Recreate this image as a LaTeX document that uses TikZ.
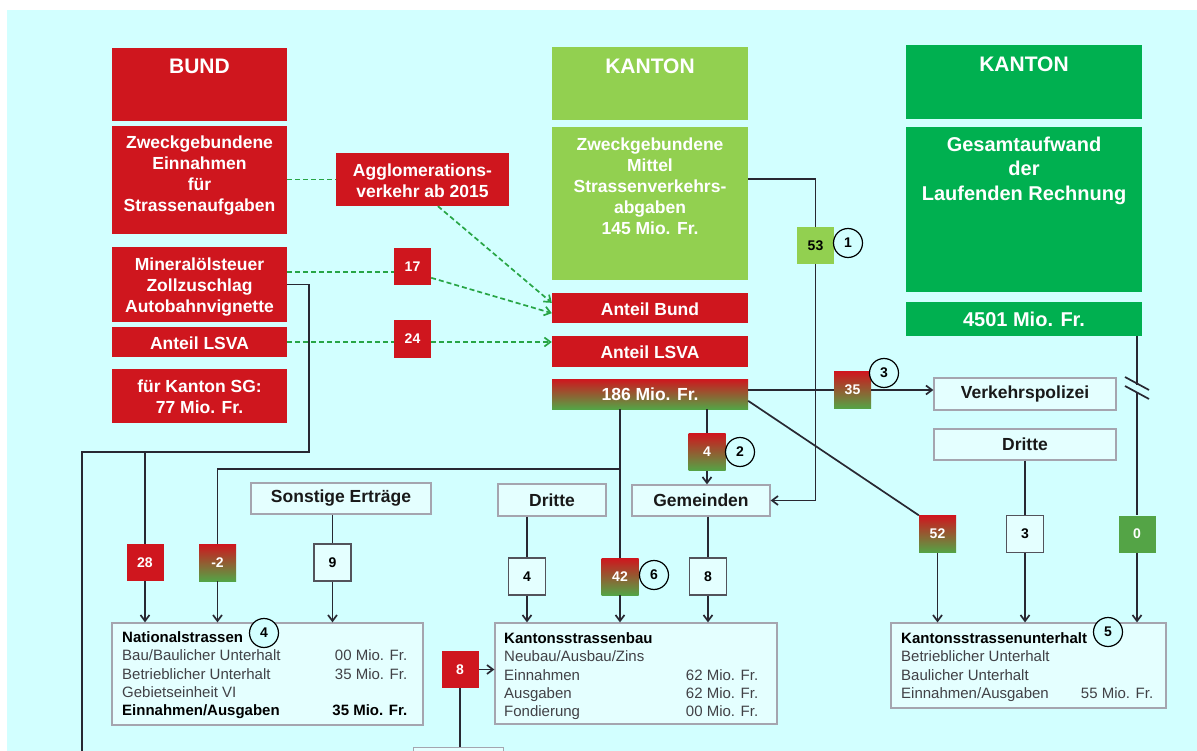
\documentclass[tikz,border=0pt]{standalone}
\usepackage{fontspec}
\setmainfont{Liberation Sans}
\usetikzlibrary{arrows.meta,positioning}

\definecolor{bgcyan}{RGB}{210,255,255}
\definecolor{bundred}{RGB}{207,22,30}
\definecolor{kantlight}{RGB}{146,208,80}
\definecolor{kantdark}{RGB}{0,176,80}
\definecolor{flowgreen}{RGB}{84,164,70}
\definecolor{dashgreen}{RGB}{40,165,70}
\definecolor{wirec}{RGB}{40,40,50}
\definecolor{boxgray}{RGB}{165,165,175}
\definecolor{boxfill}{RGB}{228,255,255}
\definecolor{txtgray}{RGB}{65,65,70}

\newcommand{\bfBox}{\fontsize{17.5}{21}\selectfont\bfseries}
\newcommand{\bfBig}{\fontsize{20}{24.5}\selectfont\bfseries}
\newcommand{\bfHead}{\fontsize{21}{25}\selectfont\bfseries}
\newcommand{\bfNum}{\fontsize{14}{16}\selectfont\bfseries}
\newcommand{\txtList}{\fontsize{15}{18.3}\selectfont}

\begin{document}
\begin{tikzpicture}[x=1pt,y=1pt,yscale=-1,
  redbox/.style={fill=bundred, inner sep=0pt, minimum width=175pt},
  lightbox/.style={fill=kantlight, inner sep=0pt, minimum width=196pt},
  darkbox/.style={fill=kantdark, inner sep=0pt, minimum width=236pt},
  mixbox/.style={top color=bundred, bottom color=flowgreen, inner sep=0pt, minimum width=196pt},
  wtext/.style={text=white, font=\bfBox, align=center, inner sep=0pt},
  numbox/.style={minimum size=37pt, inner sep=0pt, font=\bfNum},
  rednum/.style={numbox, fill=bundred, text=white},
  mixnum/.style={numbox, top color=bundred, bottom color=flowgreen, text=white},
  limenum/.style={numbox, fill=kantlight, text=black},
  greennum/.style={numbox, fill=flowgreen, text=white},
  whitenum/.style={numbox, fill=boxfill, draw=wirec!80, line width=1.2pt, text=black},
  graybox/.style={fill=boxfill, draw=boxgray, line width=1.2pt, font=\bfBox, text=black!90, inner sep=0pt},
  listbox/.style={fill=boxfill, draw=boxgray, line width=1.2pt, inner sep=0pt},
  listtxt/.style={font=\txtList, text=txtgray, inner sep=0pt, anchor=north west},
  tag/.style={circle, draw=black, line width=1.2pt, fill=bgcyan, minimum size=29pt, inner sep=0pt, font=\bfNum},
  wire/.style={draw=wirec, line width=1.7pt},
  flow/.style={wire, -{Straight Barb[length=6pt,width=9pt]}},
  gflow/.style={draw=dashgreen, line width=1.7pt, dash pattern=on 5pt off 3pt},
  garrow/.style={gflow, -{Straight Barb[length=6pt,width=9pt]}}]
\useasboundingbox (0,0) rectangle (1197,751);
\clip (0,0) rectangle (1197,751);

%Shape: Background
\fill[white] (0,0) rectangle (1197,751);
\fill[bgcyan] (7,10) rectangle (1197,751);

%Shape: Bund column
\node[redbox, minimum height=73pt] (bund) at (199.5,84.5) {};
\node[redbox, minimum height=108pt] (bundzw) at (199.5,180) {};
\node[redbox, minimum height=75pt] (mineral) at (199.5,284.5) {};
\node[redbox, minimum height=30pt] (lsvab) at (199.5,342) {};
\node[redbox, minimum height=54pt] (sgbox) at (199.5,396) {};
\node[redbox, minimum width=173pt, minimum height=53pt] (agglo) at (422.5,179.5) {};
% Text Node
\node[wtext, font=\bfHead] (bundt) at (199.5,66) {BUND};
\node[wtext] (bundzwt) at (199.5,176) {Zweckgebundene\\Einnahmen\\für\\Strassenaufgaben};
\node[wtext] (mineralt) at (199.5,287) {Mineralölsteuer\\Zollzuschlag\\Autobahnvignette};
\node[wtext] (lsvabt) at (199.5,343) {Anteil LSVA};
\node[wtext] (sgboxt) at (199.5,397) {für Kanton SG:\\77 Mio. Fr.};
\node[wtext] (agglot) at (422.5,181) {Agglomerations-\\verkehr ab 2015};

%Shape: Kanton column (Strassenverkehrsabgaben)
\node[lightbox, minimum height=73pt] (kanton) at (650,83.5) {};
\node[lightbox, minimum height=153pt] (kzw) at (650,203.5) {};
\node[redbox, minimum width=196pt, minimum height=30pt] (anteilbund) at (650,308) {};
\node[redbox, minimum width=196pt, minimum height=31pt] (anteillsva) at (650,351.5) {};
\node[mixbox, minimum height=30pt] (mio186) at (650,394) {};
% Text Node
\node[wtext, font=\bfHead] (kantont) at (650,66) {KANTON};
\node[wtext] (kzwt) at (650,186) {Zweckgebundene\\Mittel\\Strassenverkehrs-\\abgaben\\145 Mio. Fr.};
\node[wtext] (anteilbundt) at (650,309) {Anteil Bund};
\node[wtext] (anteillsvat) at (650,352) {Anteil LSVA};
\node[wtext] (mio186t) at (650,394) {186 Mio. Fr.};

%Shape: Kanton column (Laufende Rechnung)
\node[darkbox, minimum height=74pt] (kanton2) at (1024,82) {};
\node[darkbox, minimum height=165pt] (gesamt) at (1024,209.5) {};
\node[darkbox, minimum height=34pt] (m4501) at (1024,319) {};
% Text Node
\node[wtext, font=\bfHead] (kanton2t) at (1024,64) {KANTON};
\node[wtext, font=\bfBig] (gesamtt) at (1024,170.5) {Gesamtaufwand\\der\\Laufenden Rechnung};
\node[wtext, font=\bfBig] (m4501t) at (1024,319) {4501 Mio. Fr.};

%Shape: Receivers
\node[graybox, minimum width=182pt, minimum height=32pt] (verk) at (1025,394) {Verkehrspolizei};
\node[graybox, minimum width=182pt, minimum height=31pt] (dritte2) at (1025,444.5) {Dritte};
\node[graybox, minimum width=180pt, minimum height=31pt] (sonst) at (341,498.5) {Sonstige Erträge};
\node[graybox, minimum width=108pt, minimum height=32pt] (dritte1) at (552,500) {Dritte};
\node[graybox, minimum width=138pt, minimum height=31pt] (gemeinden) at (701,500.5) {Gemeinden};

%Shape: Amounts
\node[rednum] (n17) at (412.5,267) {17};
\node[rednum] (n24) at (412.5,339) {24};
\node[limenum] (n53) at (815.5,245.5) {53};
\node[mixnum] (n35) at (852.5,390) {35};
\node[mixnum] (n4a) at (707,452) {4};
\node[mixnum] (n52) at (937.5,534) {52};
\node[whitenum] (n3) at (1025,534) {3};
\node[greennum] (n0) at (1137,534) {0};
\node[rednum] (n28) at (145,562.5) {28};
\node[mixnum] (nm2) at (217.5,562.5) {-2};
\node[whitenum] (n9) at (332.5,562.5) {9};
\node[whitenum] (n4b) at (527,576.5) {4};
\node[mixnum] (n42) at (620,576.5) {42};
\node[whitenum] (n8a) at (708,576.5) {8};
\node[rednum] (n8b) at (460,669.5) {8};

%Shape: Accounts
\node[listbox, minimum width=311pt, minimum height=102pt] (nat) at (267.5,674) {};
\node[listbox, minimum width=282pt, minimum height=101pt] (ksb) at (636,673.5) {};
\node[listbox, minimum width=275pt, minimum height=85pt] (ksu) at (1028.5,665.5) {};
\node[listbox, minimum width=90pt, minimum height=30pt, anchor=north west] (cut) at (413,747) {};
% Text Node
\node[listtxt] (natt) at (122,629.6) {\begin{tabular*}{285pt}{@{\extracolsep{\fill}}lr@{}}
\textbf{\color{black}Nationalstrassen} & \\
Bau/Baulicher Unterhalt & 00 Mio. Fr.\\
Betrieblicher Unterhalt & 35 Mio. Fr.\\
Gebietseinheit VI & \\
\textbf{\color{black}Einnahmen/Ausgaben} & \textbf{\color{black}35 Mio. Fr.}
\end{tabular*}};
\node[listtxt] (ksbt) at (504,630.6) {\begin{tabular*}{254pt}{@{\extracolsep{\fill}}lr@{}}
\multicolumn{2}{@{}l@{}}{\textbf{\color{black}Kantonsstrassenbau}}\\
\multicolumn{2}{@{}l@{}}{Neubau/Ausbau/Zins}\\
Einnahmen & 62 Mio. Fr.\\
Ausgaben & 62 Mio. Fr.\\
Fondierung & 00 Mio. Fr.
\end{tabular*}};
\node[listtxt] (ksut) at (901,630.6) {\begin{tabular*}{252pt}{@{\extracolsep{\fill}}lr@{}}
\multicolumn{2}{@{}l@{}}{\textbf{\color{black}Kantonsstrassenunterhalt}}\\
\multicolumn{2}{@{}l@{}}{Betrieblicher Unterhalt}\\
\multicolumn{2}{@{}l@{}}{Baulicher Unterhalt}\\
Einnahmen/Ausgaben & 55 Mio. Fr.
\end{tabular*}};

%Straight Lines: green dashed flows
\draw[gflow] (bundzw.east |- agglo.west) -- (agglo.west);
\draw[garrow] (agglo.-60) -- (anteilbund.177);
\draw[gflow] (mineral.east |- n17.195) -- (n17.195);
\draw[garrow] (n17.-30) -- (anteilbund.183);
\draw[gflow] (lsvab.east) -- (lsvab.east -| n24.west);
\draw[garrow] (lsvab.east -| n24.east) -- (lsvab.east -| anteillsva.west);

%Straight Lines: flows
\coordinate (j1) at (309,452);
\coordinate (lout) at (82,751);
\coordinate (j2) at (620,469);
\coordinate (brk1) at (1137,385);
\coordinate (brk2) at (1137,393);
\draw[wire] (mineral.east) -| (j1) -- (lout |- j1) -- (lout);
\draw[wire] (n28.north |- j1) -- (n28.north);
\draw[flow] (n28.south) -- (n28.south |- nat.north);
\draw[wire] (n42.north |- mio186.south) -- (n42.north);
\draw[wire] (j2) -| (nm2.north);
\draw[flow] (nm2.south) -- (nm2.south |- nat.north);
\draw[wire] (n9.north |- sonst.south) -- (n9.north);
\draw[flow] (n9.south) -- (n9.south |- nat.north);
\draw[wire] (n4b.north |- dritte1.south) -- (n4b.north);
\draw[flow] (n4b.south) -- (n4b.south |- ksb.north);
\draw[flow] (n42.south) -- (n42.south |- ksb.north);
\draw[wire] (n8a.north |- gemeinden.south) -- (n8a.north);
\draw[flow] (n8a.south) -- (n8a.south |- ksb.north);
\draw[flow] (n8b.east) -- (n8b.east -| ksb.west);
\draw[wire] (n8b.south) -- (n8b.south |- cut.north);
\draw[wire] (kzw.14) -| (n53.north);
\draw[flow] (n53.south) |- (gemeinden.east);
\draw[wire] (n4a.north |- mio186.south) -- (n4a.north);
\draw[flow] (n4a.south) -- (n4a.south |- gemeinden.north);
\draw[wire] (mio186.east |- n35.west) -- (n35.west);
\draw[flow] (n35.east) -- (n35.east -| verk.west);
\draw[wire] (mio186.-4) -- (n52.north west);
\draw[flow] (n52.south) -- (n52.south |- ksu.north);
\draw[wire] (n3.north |- dritte2.south) -- (n3.north);
\draw[flow] (n3.south) -- (n3.south |- ksu.north);
\draw[wire] (n0.north |- m4501.south) -- (brk1);
\draw[wire] (brk2) -- (n0.north);
\draw[flow] (n0.south) -- (n0.south |- ksu.north);
%Straight Lines: break mark
\draw[wire] (1125,377) -- (1149,390);
\draw[wire] (1125,386) -- (1149,399);

%Shape: Notes
\node[tag] (t1) at (848,243) {1};
\node[tag] (t2) at (740,452) {2};
\node[tag] (t3) at (884,373) {3};
\node[tag] (t4) at (264,633) {4};
\node[tag] (t5) at (1108,632) {5};
\node[tag] (t6) at (654,575) {6};

\end{tikzpicture}
\end{document}
